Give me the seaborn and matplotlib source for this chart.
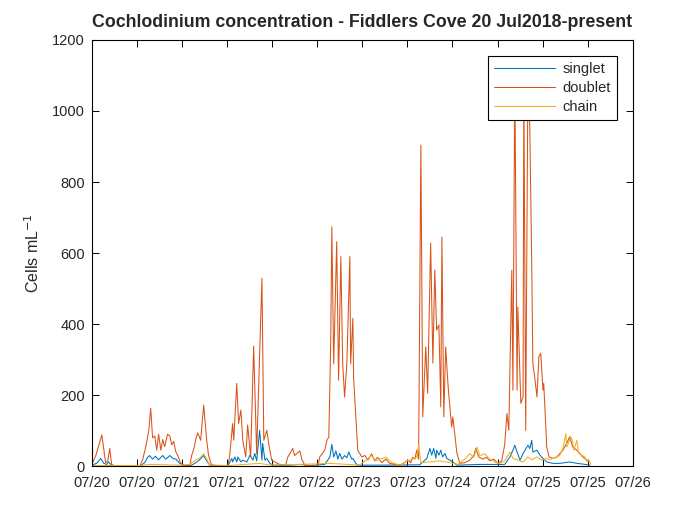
import matplotlib
matplotlib.use("Agg")
import matplotlib.pyplot as plt
import matplotlib.dates as mdates
import pandas as pd
import seaborn as sns

# ---------------------------------------------------------------
# Data (hours after 2018-07-20 00:00, cells/mL)
# ---------------------------------------------------------------
START = "2018-07-20"

singlet_hours = [0.0, 1.3, 2.4, 3.2, 4.0, 4.5, 5.3, 6.4, 12.8, 14.1, 14.9, 15.4, 16.2, 17.0, 17.8,
                 18.9, 19.7, 20.8, 21.6, 22.4, 23.4, 24.5, 26.6, 27.7, 28.7, 29.8, 30.6, 31.4,
                 36.2, 37.3, 37.5, 38.1, 38.6, 38.9, 39.7, 40.2, 41.3, 42.1, 42.9, 43.4, 43.9,
                 44.7, 45.3, 45.5, 46.1, 46.6, 47.4, 48.2, 52.7, 55.4, 58.0, 62.0, 63.4, 63.9,
                 64.4, 65.0, 65.5, 66.0, 66.6, 67.3, 67.9, 68.4, 69.2, 69.5, 70.3, 70.8, 76.7,
                 87.3, 89.2, 90.0, 90.5, 91.0, 91.6, 91.8, 92.4, 92.9, 93.4, 94.0, 94.5, 95.3,
                 96.1, 97.2, 103.3, 109.9, 111.3, 112.1, 112.6, 113.2, 114.0, 114.8, 115.8,
                 116.1, 116.6, 117.1, 117.4, 118.5, 119.3, 120.1, 121.1, 122.7, 124.6, 127.2,
                 129.1, 130.7, 132.6]
singlet_vals = [3, 8, 22, 8, 5, 12, 2, 0, 0, 10, 25, 30, 20, 28, 18,
                30, 20, 30, 22, 20, 8, 2, 3, 10, 18, 30, 15, 3,
                0, 22, 12, 26, 12, 26, 12, 17, 12, 31, 17, 36, 15,
                101, 17, 64, 17, 22, 8, 3, 3, 5, 2, 5, 26, 62,
                26, 43, 20, 36, 20, 30, 24, 40, 20, 22, 8, 3, 3,
                4, 22, 50, 31, 50, 22, 45, 31, 45, 26, 36, 22, 17,
                12, 3, 5, 5, 26, 45, 59, 40, 17, 36, 54,
                59, 50, 73, 40, 45, 31, 22, 12, 8, 8, 12,
                8, 6, 3]

doublet_hours = [0.0, 1.1, 2.7, 3.7, 4.3, 4.8, 5.3, 6.4, 12.8, 13.6, 14.4, 15.2, 15.7, 16.2, 16.8,
                 17.3, 17.8, 18.4, 18.9, 19.4, 20.2, 20.8, 21.3, 21.8, 22.4, 22.9, 23.7, 24.5,
                 26.1, 26.6, 27.2, 27.7, 28.2, 29.0, 29.8, 30.6, 31.1, 31.9, 36.2, 36.7, 37.5,
                 37.8, 38.6, 39.1, 39.7, 40.2, 41.0, 41.5, 42.3, 43.1, 43.9, 45.3, 45.8, 46.6,
                 47.1, 47.9, 48.7, 50.0, 51.6, 52.2, 53.0, 53.5, 54.0, 54.6, 55.4, 55.9, 56.7,
                 60.2, 60.7, 62.0, 62.6, 63.1, 63.6, 63.9, 64.4, 65.2, 65.7, 66.3, 66.8, 67.3,
                 67.9, 68.7, 68.9, 69.5, 69.7, 70.3, 70.8, 71.9, 72.7, 73.5, 74.5, 75.3, 76.1,
                 77.2, 78.3, 79.3, 80.7, 82.0, 83.3, 84.1, 84.9, 85.4, 86.0, 86.5, 87.0, 87.6,
                 88.1, 88.9, 89.4, 90.2, 90.8, 91.3, 91.8, 92.4, 92.9, 93.2, 93.7, 94.2, 94.8,
                 95.0, 95.8, 96.1, 97.2, 98.0, 99.3, 100.6, 101.7, 102.2, 103.0, 104.1, 105.1,
                 105.9, 107.0, 108.1, 109.1, 109.9, 110.5, 111.0, 111.8, 112.1, 112.6, 113.2,
                 113.4, 114.2, 114.8, 115.0, 115.5, 116.1, 116.6, 117.1, 117.4, 117.9, 118.5,
                 119.0, 119.5, 120.1, 120.3, 121.1, 121.7, 122.7, 123.8, 124.6, 125.4, 126.4,
                 127.2, 128.0, 129.1, 129.9, 130.7, 131.8, 132.3]
doublet_vals = [5, 30, 88, 10, 15, 50, 5, 0, 0, 20, 55, 100, 163, 80, 85,
                45, 90, 45, 75, 55, 90, 85, 60, 70, 40, 30, 8, 3,
                0, 30, 50, 75, 94, 73, 172, 73, 30, 3, 0, 27, 120,
                73, 233, 120, 158, 73, 26, 116, 26, 338, 35, 529, 73, 101,
                64, 17, 12, 5, 3, 26, 40, 50, 30, 36, 43, 20, 3,
                0, 26, 45, 73, 82, 344, 674, 288, 632, 242, 590, 288, 195,
                288, 590, 288, 416, 250, 140, 45, 26, 30, 17, 35, 15, 25,
                10, 20, 8, 5, 3, 10, 17, 10, 25, 20, 45, 20, 904,
                139, 336, 205, 628, 290, 552, 383, 398, 167, 645, 139, 336, 233,
                205, 110, 139, 36, 8, 10, 17, 30, 50, 26, 20, 25,
                15, 20, 8, 15, 60, 148, 101, 552, 214, 1100, 214,
                448, 177, 195, 1080, 101, 1120, 946, 571, 290, 250, 195,
                308, 318, 214, 233, 54, 26, 22, 26, 36, 45, 64,
                83, 54, 45, 36, 26, 17, 12]

chain_hours = [0.0, 12.8, 15.4, 23.4, 26.1, 27.7, 28.7, 29.8, 30.6, 31.4, 36.7, 44.7, 47.4, 55.4,
               63.4, 71.3, 72.7, 74.5, 75.6, 76.7, 78.3, 79.9, 82.0, 84.1, 85.4, 86.5, 87.0,
               87.6, 90.0, 92.6, 95.3, 97.4, 99.3, 100.6, 101.7, 102.5, 103.3, 104.6, 105.9,
               107.3, 108.6, 109.9, 111.3, 112.1, 113.2, 114.8, 116.1, 117.1, 118.5, 119.8,
               121.1, 121.9, 122.7, 123.8, 124.6, 125.4, 126.2, 126.4, 127.0, 127.5, 128.0,
               128.3, 129.1, 129.6, 130.4, 131.2, 131.8, 132.3, 132.8]
chain_vals = [2, 2, 5, 3, 5, 18, 22, 35, 20, 3, 2, 8, 3, 5,
              8, 3, 15, 30, 15, 20, 25, 10, 3, 15, 20, 25, 60,
              10, 12, 15, 10, 5, 20, 35, 25, 54, 30, 35, 20,
              12, 8, 15, 40, 22, 18, 12, 26, 18, 26, 17,
              22, 18, 22, 26, 31, 50, 92, 54, 69, 83, 69,
              45, 73, 36, 31, 26, 12, 18, 5]

SERIES = [
    ("singlet", singlet_hours, singlet_vals, "#0072BD"),
    ("doublet", doublet_hours, doublet_vals, "#D95319"),
    ("chain", chain_hours, chain_vals, "#EDB120"),
]


def to_times(hours):
    return pd.Timestamp(START) + pd.to_timedelta(hours, unit="h")


def main():
    sns.set_style("ticks")
    plt.rcParams["font.family"] = ["Liberation Sans", "DejaVu Sans"]

    fig = plt.figure(figsize=(7, 5.25), dpi=100)
    ax = fig.add_axes([0.131, 0.112, 0.773, 0.812])

    for name, hours, vals, color in SERIES:
        sns.lineplot(x=to_times(hours), y=vals, color=color, linewidth=0.75,
                     label=name, ax=ax)

    ax.set_xlim(pd.Timestamp("2018-07-20"), pd.Timestamp("2018-07-26"))
    ax.set_ylim(0, 1200)
    ax.set_yticks(range(0, 1201, 200))
    ax.xaxis.set_major_locator(mdates.HourLocator(byhour=[0, 12]))
    ax.xaxis.set_major_formatter(mdates.DateFormatter("%m/%d"))

    for side in ["top", "right", "left", "bottom"]:
        ax.spines[side].set_visible(True)
        ax.spines[side].set_linewidth(0.8)
        ax.spines[side].set_color("black")
    ax.tick_params(direction="in", length=5, width=0.7, top=True, right=True,
                   labelsize=10.5, colors="black", labelcolor="#262626")
    ax.tick_params(axis="y", pad=5)
    ax.tick_params(axis="x", pad=7)

    ax.set_xlabel("")
    ax.set_ylabel("Cells mL$^{-1}$", fontsize=11.5, color="#262626", labelpad=7)
    ax.set_title("Cochlodinium concentration - Fiddlers Cove 20 Jul2018-present",
                 fontsize=12.8, fontweight="bold", pad=9)

    leg = ax.legend(loc="upper right", bbox_to_anchor=(0.97, 0.962), borderaxespad=0,
                    fontsize=10.5, frameon=True, fancybox=False, framealpha=1,
                    edgecolor="black", handlelength=4.2, borderpad=0.4,
                    labelspacing=0.35, handletextpad=0.5)
    leg.get_frame().set_linewidth(0.8)

    fig.savefig("out.png", dpi=100)
    plt.close(fig)


if __name__ == "__main__":
    main()
